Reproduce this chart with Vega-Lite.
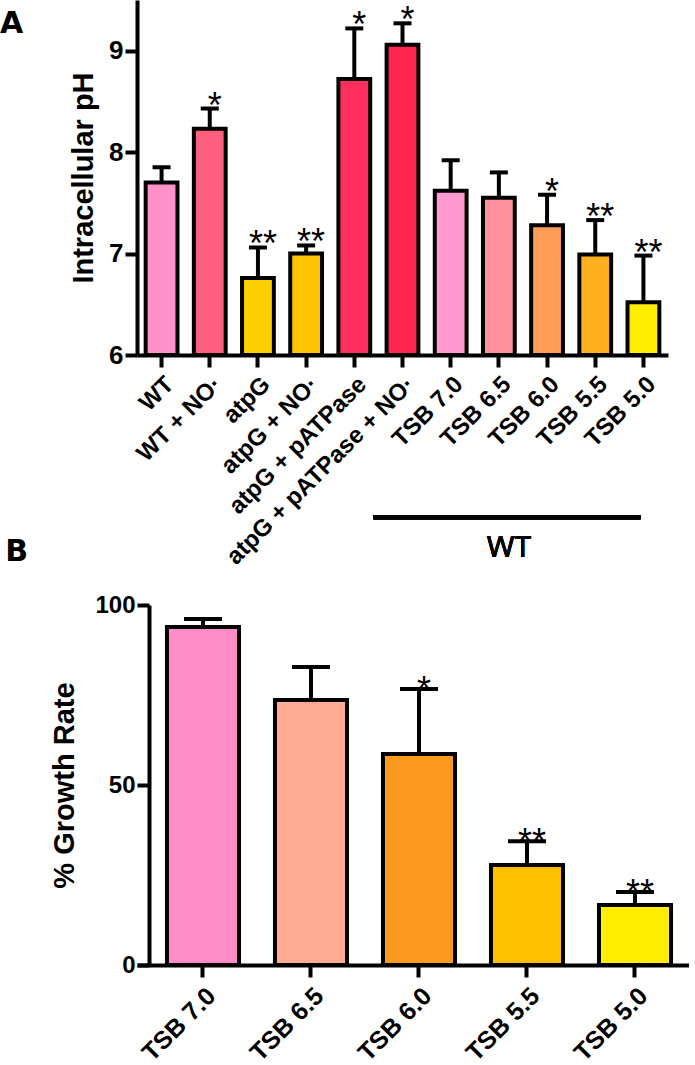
{
  "$schema": "https://vega.github.io/schema/vega-lite/v6.json",
  "padding": 0,
  "autosize": {"type": "pad"},
  "bounds": "flush",
  "spacing": 250,
  "config": {
    "view": {"stroke": null},
    "font": "Liberation Sans",
    "axis": {
      "domainColor": "black", "domainWidth": 4, "tickColor": "black", "tickWidth": 4, "tickSize": 12,
      "labelColor": "black", "labelFontWeight": "bold", "labelFont": "Liberation Sans", "labelLimit": 400,
      "titleColor": "black", "titleFontWeight": "bold", "titleFont": "Liberation Sans", "grid": false
    }
  },
  "resolve": {"scale": {"x": "independent", "y": "independent", "color": "independent"}},
  "vconcat": [
    {
      "width": 531,
      "height": 355,
      "title": {"text": "A", "orient": "left", "angle": 0, "anchor": "end", "align": "right", "baseline": "alphabetic", "dy": 33, "offset": 23, "fontSize": 30, "fontWeight": "bold", "font": "DejaVu Sans", "color": "black"},
      "data": {"values": [
        {"group": "WT", "value": 7.70, "upper": 7.85, "sig": ""},
        {"group": "WT + NO·", "value": 8.23, "upper": 8.43, "sig": "*"},
        {"group": "atpG", "value": 6.76, "upper": 7.06, "sig": "**"},
        {"group": "atpG + NO·", "value": 7.00, "upper": 7.08, "sig": "**"},
        {"group": "atpG + pATPase", "value": 8.72, "upper": 9.22, "sig": "*"},
        {"group": "atpG + pATPase + NO·", "value": 9.06, "upper": 9.27, "sig": "*"},
        {"group": "TSB 7.0", "value": 7.62, "upper": 7.92, "sig": ""},
        {"group": "TSB 6.5", "value": 7.55, "upper": 7.80, "sig": ""},
        {"group": "TSB 6.0", "value": 7.28, "upper": 7.58, "sig": "*"},
        {"group": "TSB 5.5", "value": 6.99, "upper": 7.33, "sig": "**"},
        {"group": "TSB 5.0", "value": 6.52, "upper": 6.98, "sig": "**"}
      ]},
      "encoding": {
        "x": {
          "field": "group", "type": "nominal",
          "scale": {"domain": ["WT", "WT + NO·", "atpG", "atpG + NO·", "atpG + pATPase", "atpG + pATPase + NO·", "TSB 7.0", "TSB 6.5", "TSB 6.0", "TSB 5.5", "TSB 5.0"], "paddingInner": 0.34, "paddingOuter": 0.18},
          "axis": {"title": null, "labelAngle": -45, "labelFontSize": 24, "labelPadding": 5}
        }
      },
      "layer": [
        {
          "mark": {"type": "rule", "stroke": "black", "strokeWidth": 4},
          "encoding": {
            "y": {"field": "value", "type": "quantitative", "scale": {"domain": [6, 9.5], "nice": false, "zero": false},
                  "axis": {"title": "Intracellular pH", "values": [6, 7, 8, 9], "format": "d", "labelFontSize": 26, "labelPadding": 2, "titleFontSize": 29, "titlePadding": 10}},
            "y2": {"field": "upper"}
          }
        },
        {
          "mark": {"type": "tick", "color": "black", "size": 18, "thickness": 4, "opacity": 1},
          "encoding": {"y": {"field": "upper", "type": "quantitative"}}
        },
        {
          "mark": {"type": "bar", "stroke": "black", "strokeWidth": 4, "opacity": 1},
          "encoding": {
            "y": {"field": "value", "type": "quantitative"},
            "y2": {"datum": 6},
            "color": {"field": "group", "type": "nominal", "legend": null,
              "scale": {"domain": ["WT", "WT + NO·", "atpG", "atpG + NO·", "atpG + pATPase", "atpG + pATPase + NO·", "TSB 7.0", "TSB 6.5", "TSB 6.0", "TSB 5.5", "TSB 5.0"],
                        "range": ["#FF92C8", "#FF6080", "#FFD000", "#FFC400", "#FF2E5C", "#FF2650", "#FF99CE", "#FF919E", "#FF9C55", "#FFB020", "#FFEE00"]}}
          }
        },
        {
          "mark": {"type": "text", "fontSize": 36, "baseline": "alphabetic", "dy": 9, "dx": 5, "color": "black", "font": "Liberation Sans"},
          "encoding": {"y": {"field": "upper", "type": "quantitative"}, "text": {"field": "sig"}}
        },
        {
          "mark": {"type": "rule", "stroke": "black", "strokeWidth": 4, "xOffset": -29, "x2Offset": -3},
          "encoding": {"x": {"datum": "atpG + pATPase + NO·"}, "x2": {"datum": "TSB 5.0"}, "y": {"datum": 4.4}}
        },
        {
          "mark": {"type": "text", "fontSize": 30, "font": "Open Sans", "baseline": "middle", "dx": 10, "color": "black"},
          "encoding": {"x": {"datum": "TSB 6.5"}, "y": {"datum": 4.1}, "text": {"value": "WT"}}
        }
      ]
    },
    {
      "width": 552,
      "height": 360,
      "title": {"text": "B", "orient": "left", "angle": 0, "anchor": "end", "align": "right", "baseline": "alphabetic", "dy": -32, "offset": 0, "fontSize": 30, "fontWeight": "bold", "font": "DejaVu Sans", "color": "black"},
      "data": {"values": [
        {"medium": "TSB 7.0", "rate": 93.9, "upper": 96.1, "sig": ""},
        {"medium": "TSB 6.5", "rate": 73.6, "upper": 82.8, "sig": ""},
        {"medium": "TSB 6.0", "rate": 58.6, "upper": 76.7, "sig": "*"},
        {"medium": "TSB 5.5", "rate": 27.8, "upper": 34.4, "sig": "**"},
        {"medium": "TSB 5.0", "rate": 16.7, "upper": 20.3, "sig": "**"}
      ]},
      "encoding": {
        "x": {
          "field": "medium", "type": "nominal",
          "scale": {"domain": ["TSB 7.0", "TSB 6.5", "TSB 6.0", "TSB 5.5", "TSB 5.0"], "paddingInner": 0.333, "paddingOuter": 0.222, "align": 0.625},
          "axis": {"title": null, "labelAngle": -45, "labelFontSize": 25, "labelPadding": 6}
        }
      },
      "layer": [
        {
          "mark": {"type": "rule", "stroke": "black", "strokeWidth": 4},
          "encoding": {
            "y": {"field": "rate", "type": "quantitative", "scale": {"domain": [0, 100], "nice": false},
                  "axis": {"title": "% Growth Rate", "values": [0, 50, 100], "offset": -12, "labelFontSize": 24, "labelPadding": 2, "titleFontSize": 29, "titlePadding": 15}},
            "y2": {"field": "upper"}
          }
        },
        {
          "mark": {"type": "tick", "color": "black", "size": 38, "thickness": 4, "opacity": 1},
          "encoding": {"y": {"field": "upper", "type": "quantitative"}}
        },
        {
          "mark": {"type": "bar", "stroke": "black", "strokeWidth": 4, "opacity": 1},
          "encoding": {
            "y": {"field": "rate", "type": "quantitative"},
            "y2": {"datum": 0},
            "color": {"field": "medium", "type": "nominal", "legend": null,
              "scale": {"domain": ["TSB 7.0", "TSB 6.5", "TSB 6.0", "TSB 5.5", "TSB 5.0"],
                        "range": ["#FF8EC8", "#FFAB95", "#FF9A20", "#FFC000", "#FFEE00"]}}
          }
        },
        {
          "mark": {"type": "text", "fontSize": 36, "baseline": "alphabetic", "dy": 13, "dx": 5, "color": "black", "font": "Liberation Sans"},
          "encoding": {"y": {"field": "upper", "type": "quantitative"}, "text": {"field": "sig"}}
        }
      ]
    }
  ]
}
